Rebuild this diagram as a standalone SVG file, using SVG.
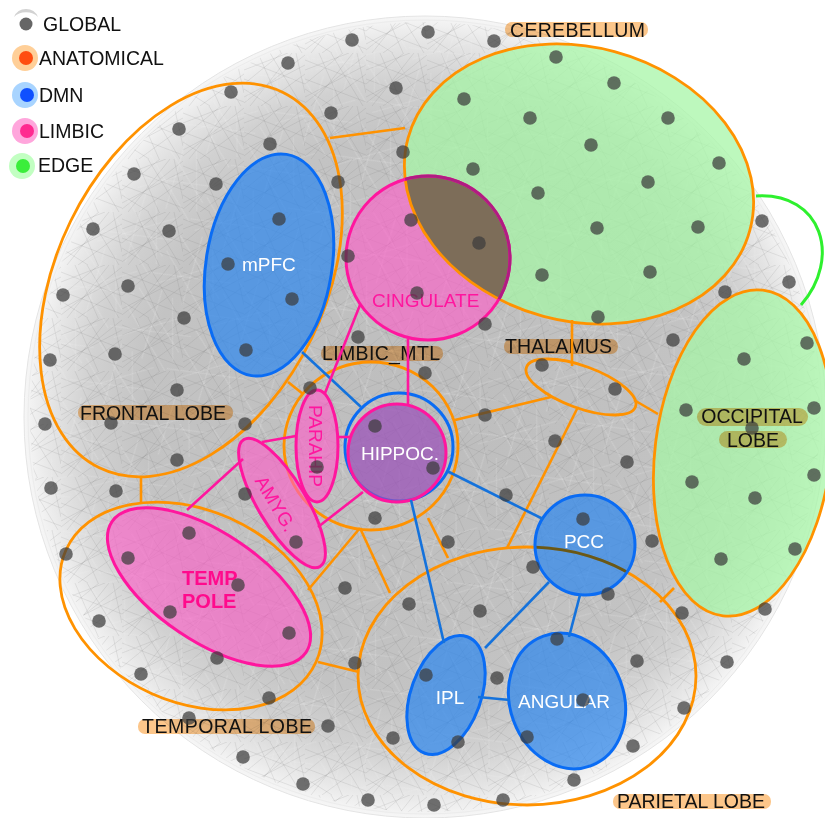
<svg xmlns="http://www.w3.org/2000/svg" width="825" height="818" viewBox="0 0 825 818">
<style>
text{font-family:"Liberation Sans",Arial,Helvetica,sans-serif}
.lbl{font-size:19.5px;fill:#111}
.lbg{fill:#fcc68a;mix-blend-mode:multiply}
.anat{fill:none;stroke:#ff9200;stroke-width:2.8}
.green{fill:#a6f5a6;fill-opacity:.74}
.dmnf{fill:#2b86ee;fill-opacity:.7}
.dmns{fill:none;stroke:#0a6cf4;stroke-width:3}
.limf{fill:#ff5cc8;fill-opacity:.62}
.lims{fill:none;stroke:#ff169e;stroke-width:3}
.wt{fill:#fff;font-size:19px}
.pt{fill:#ff169e;font-size:19px}
.c-anat{stroke:#ff9200;stroke-width:2.6}
.c-dmn{stroke:#1472dc;stroke-width:2.6}
.c-lim{stroke:#ff169e;stroke-width:2.6}
.c-edge{stroke:#2ef02e;stroke-width:3;fill:none}
.g circle{fill:#3c3c3c;fill-opacity:.72}
</style>
<defs>
<radialGradient id="bgGrad" cx="425" cy="417" r="402" gradientUnits="userSpaceOnUse">
<stop offset="0" stop-color="#bdbdbd"/>
<stop offset="0.7" stop-color="#c3c3c3"/>
<stop offset="0.84" stop-color="#d1d1d1"/>
<stop offset="0.94" stop-color="#e7e7e7"/>
<stop offset="1" stop-color="#f7f7f7"/>
</radialGradient>
<pattern id="tex1" width="61" height="53" patternUnits="userSpaceOnUse">
<path d="M0 7L61 31M0 44L61 12M14 0L37 53M48 0L6 53M0 26L61 49M26 0L58 53M0 17L44 0M17 53L61 21M0 36L27 53M38 0L0 31M52 0L61 40M0 50L61 2" stroke="#6a6a6a" stroke-width="0.45" stroke-opacity="0.3" fill="none"/>
</pattern>
<pattern id="tex2" width="71" height="67" patternUnits="userSpaceOnUse" patternTransform="rotate(37)">
<path d="M0 12L71 40M0 60L71 20M20 0L45 67M60 0L10 67M0 33L71 63M33 0L71 50" stroke="#f4f4f4" stroke-width="0.6" stroke-opacity="0.4" fill="none"/>
</pattern>
<clipPath id="clipCer"><ellipse cx="579" cy="184" rx="177" ry="137" transform="rotate(15 579 184)"/></clipPath>
<clipPath id="clipCing"><circle cx="428" cy="258" r="82"/></clipPath>
<clipPath id="clipPCC"><circle cx="585" cy="545" r="50"/></clipPath>
</defs>

<g id="background">
<circle cx="425" cy="417" r="401" fill="url(#bgGrad)" stroke="#e4e4e4" stroke-width="1"/>
<circle cx="425" cy="417" r="395" fill="url(#tex1)"/>
<circle cx="425" cy="417" r="380" fill="url(#tex2)"/>
<circle cx="425" cy="417" r="397" fill="none" stroke="#ececec" stroke-width="1"/>
</g>

<g id="legend">
<path d="M14,17 A13,13 0 0 1 38,17 A14,10 0 0 0 14,17 Z" fill="#d2d2d2"/>
<circle cx="26" cy="24" r="6.5" fill="#666"/>
<text class="lbl" x="43" y="31">GLOBAL</text>
<circle cx="25" cy="58" r="13" fill="#ffcf98"/>
<circle cx="26" cy="58" r="7" fill="#ff4d10"/>
<text class="lbl" x="39" y="65">ANATOMICAL</text>
<circle cx="25" cy="95" r="13" fill="#a8d4ff"/>
<circle cx="27" cy="95" r="7" fill="#1050ff"/>
<text class="lbl" x="39" y="102">DMN</text>
<circle cx="25" cy="131" r="13" fill="#ffa6dc"/>
<circle cx="27" cy="131" r="7" fill="#ff2a90"/>
<text class="lbl" x="39" y="138">LIMBIC</text>
<circle cx="22" cy="166" r="13" fill="#c2ffc2"/>
<circle cx="23" cy="166" r="7" fill="#3bee3b"/>
<text class="lbl" x="38" y="172">EDGE</text>
</g>

<g id="frontal-lobe">
<ellipse class="anat" cx="191" cy="280" rx="134" ry="209" transform="rotate(26 191 280)"/>
<rect class="lbg" x="78" y="405" width="155" height="15" rx="7"/>
<text class="lbl" x="80" y="420" textLength="146">FRONTAL LOBE</text>
</g>
<g id="temporal-lobe">
<ellipse class="anat" cx="191" cy="606" rx="137" ry="96" transform="rotate(24 191 606)"/>
<rect class="lbg" x="138" y="719" width="177" height="15" rx="7"/>
<text class="lbl" x="142" y="733" textLength="170">TEMPORAL LOBE</text>
</g>
<g id="parietal-lobe">
<ellipse class="anat" cx="527" cy="676" rx="169" ry="129"/>
<rect class="lbg" x="613" y="794" width="158" height="15" rx="7"/>
<text class="lbl" x="617" y="808" textLength="148">PARIETAL LOBE</text>
</g>
<g id="limbic-mtl">
<ellipse class="anat" cx="371" cy="446" rx="87" ry="84"/>
<rect class="lbg" x="321" y="346" width="122" height="15" rx="7"/>
<text class="lbl" x="322" y="360" textLength="118">LIMBIC_MTL</text>
</g>
<g id="thalamus">
<ellipse class="anat" cx="581" cy="387" rx="58" ry="21" transform="rotate(20 581 387)"/>
<rect class="lbg" x="504" y="339" width="114" height="15" rx="7"/>
<text class="lbl" x="505" y="353" textLength="107">THALAMUS</text>
</g>
<g id="cerebellum">
<ellipse class="green" cx="579" cy="184" rx="177" ry="137" transform="rotate(15 579 184)"/>
<rect class="lbg" x="505" y="22" width="143" height="15" rx="7"/>
<text class="lbl" x="510" y="37" textLength="135">CEREBELLUM</text>
</g>
<g id="occipital-lobe">
<ellipse class="green" cx="743" cy="453" rx="88" ry="164" transform="rotate(7 743 453)"/>
<ellipse class="anat" cx="743" cy="453" rx="88" ry="164" transform="rotate(7 743 453)" stroke="#f48e08"/>
</g>

<g id="cingulate">
<circle class="limf" cx="428" cy="258" r="82"/>
<g clip-path="url(#clipCing)">
<ellipse cx="579" cy="184" rx="177" ry="137" transform="rotate(15 579 184)" fill="#646440" fill-opacity="0.8"/>
</g>
<ellipse class="anat" cx="579" cy="184" rx="177" ry="137" transform="rotate(15 579 184)" stroke="#ec8e0c"/>
<circle class="lims" cx="428" cy="258" r="82"/>
<g clip-path="url(#clipCer)"><circle cx="428" cy="258" r="82" fill="none" stroke="#b01c82" stroke-width="3"/></g>
<text class="pt" x="372" y="307">CINGULATE</text>
</g>

<g id="mpfc">
<ellipse class="dmnf" cx="269" cy="265" rx="63" ry="112" transform="rotate(9 269 265)"/>
<ellipse class="dmns" cx="269" cy="265" rx="63" ry="112" transform="rotate(9 269 265)"/>
<text class="wt" x="242" y="271">mPFC</text>
</g>

<g id="hippoc">
<circle cx="399" cy="447" r="54" fill="none" stroke="#0a6cf4" stroke-width="3"/>
<circle cx="397" cy="453" r="49" fill="#9a4fb8" fill-opacity="0.72"/>
<circle class="lims" cx="397" cy="453" r="49"/>
<text class="wt" x="400" y="460" text-anchor="middle">HIPPOC.</text>
</g>

<g id="parahip">
<ellipse class="limf" cx="317" cy="446" rx="21" ry="56"/>
<ellipse class="lims" cx="317" cy="446" rx="21" ry="56"/>
<text class="pt" transform="translate(309 446) rotate(90)" text-anchor="middle" font-size="18.5">PARAHIP</text>
</g>

<g id="amyg">
<ellipse class="limf" cx="282" cy="503" rx="24" ry="74" transform="rotate(-31 282 503)"/>
<ellipse class="lims" cx="282" cy="503" rx="24" ry="74" transform="rotate(-31 282 503)"/>
<text class="pt" transform="translate(270 507) rotate(59)" text-anchor="middle" font-size="18.5">AMYG.</text>
</g>

<g id="temp-pole">
<ellipse class="limf" cx="209" cy="587" rx="117" ry="54" transform="rotate(34 209 587)"/>
<ellipse class="lims" cx="209" cy="587" rx="117" ry="54" transform="rotate(34 209 587)"/>
<text x="182" y="585" font-size="20" font-weight="bold" fill="#ff0a8c">TEMP</text>
<text x="182" y="608" font-size="20" font-weight="bold" fill="#ff0a8c">POLE</text>
</g>

<g id="pcc">
<circle class="dmnf" cx="585" cy="545" r="50"/>
<g clip-path="url(#clipPCC)"><ellipse cx="527" cy="676" rx="169" ry="129" fill="none" stroke="#6a5816" stroke-width="2.8"/></g>
<circle class="dmns" cx="585" cy="545" r="50"/>
<text class="wt" x="584" y="548" text-anchor="middle">PCC</text>
</g>

<g id="ipl">
<ellipse class="dmnf" cx="446" cy="695" rx="35" ry="62" transform="rotate(20 446 695)"/>
<ellipse class="dmns" cx="446" cy="695" rx="35" ry="62" transform="rotate(20 446 695)"/>
<text class="wt" x="450" y="704" text-anchor="middle">IPL</text>
</g>

<g id="angular">
<ellipse class="dmnf" cx="567" cy="701" rx="57" ry="69" transform="rotate(-20 567 701)"/>
<ellipse class="dmns" cx="567" cy="701" rx="57" ry="69" transform="rotate(-20 567 701)"/>
<text class="wt" x="564" y="708" text-anchor="middle">ANGULAR</text>
</g>

<g id="occipital-label">
<rect class="lbg" x="697" y="408" width="111" height="18" rx="9"/>
<rect class="lbg" x="719" y="431" width="68" height="17" rx="8.5"/>
<text class="lbl" x="752" y="423" text-anchor="middle">OCCIPITAL</text>
<text class="lbl" x="753" y="447" text-anchor="middle">LOBE</text>
</g>

<g id="connectors">
<line class="c-anat" x1="330" y1="138" x2="405" y2="128"/>
<line class="c-anat" x1="288" y1="382" x2="303" y2="394"/>
<line class="c-anat" x1="141" y1="478" x2="141" y2="502"/>
<line class="c-anat" x1="572" y1="320" x2="572" y2="366"/>
<line class="c-anat" x1="455" y1="420" x2="551" y2="397"/>
<line class="c-anat" x1="578" y1="407" x2="507" y2="548"/>
<line class="c-anat" x1="634" y1="400" x2="658" y2="414"/>
<line class="c-anat" x1="360" y1="528" x2="308" y2="590"/>
<line class="c-anat" x1="360" y1="528" x2="390" y2="593"/>
<line class="c-anat" x1="428" y1="518" x2="448" y2="558"/>
<line class="c-anat" x1="318" y1="662" x2="359" y2="672"/>
<line class="c-anat" x1="660" y1="602" x2="674" y2="588"/>
<line class="c-dmn" x1="302" y1="352" x2="361" y2="407"/>
<line class="c-dmn" x1="447" y1="471" x2="543" y2="519"/>
<line class="c-dmn" x1="411" y1="500" x2="444" y2="643"/>
<line class="c-dmn" x1="549" y1="582" x2="485" y2="648"/>
<line class="c-dmn" x1="580" y1="595" x2="569" y2="637"/>
<line class="c-dmn" x1="478" y1="697" x2="510" y2="700"/>
<line class="c-lim" x1="360" y1="305" x2="325" y2="393"/>
<line class="c-lim" x1="408" y1="339" x2="408" y2="404"/>
<line class="c-lim" x1="338" y1="437" x2="350" y2="437"/>
<line class="c-lim" x1="262" y1="442" x2="296" y2="436"/>
<line class="c-lim" x1="243" y1="459" x2="187" y2="510"/>
<line class="c-lim" x1="318" y1="527" x2="363" y2="492"/>
<path class="c-edge" d="M756,196 C822,192 842,258 801,305"/>
</g>

<g id="global-nodes" class="g">
<circle cx="352" cy="40" r="6.8"/><circle cx="428" cy="32" r="6.8"/><circle cx="494" cy="41" r="6.8"/>
<circle cx="288" cy="63" r="6.8"/><circle cx="396" cy="88" r="6.8"/><circle cx="231" cy="92" r="6.8"/>
<circle cx="331" cy="113" r="6.8"/><circle cx="179" cy="129" r="6.8"/><circle cx="270" cy="144" r="6.8"/>
<circle cx="403" cy="152" r="6.8"/><circle cx="134" cy="174" r="6.8"/><circle cx="216" cy="184" r="6.8"/>
<circle cx="338" cy="182" r="6.8"/><circle cx="279" cy="219" r="6.8"/><circle cx="93" cy="229" r="6.8"/>
<circle cx="169" cy="231" r="6.8"/><circle cx="228" cy="264" r="6.8"/><circle cx="348" cy="256" r="6.8"/>
<circle cx="63" cy="295" r="6.8"/><circle cx="128" cy="286" r="6.8"/><circle cx="292" cy="299" r="6.8"/>
<circle cx="411" cy="220" r="6.8"/><circle cx="184" cy="318" r="6.8"/><circle cx="50" cy="360" r="6.8"/>
<circle cx="115" cy="354" r="6.8"/><circle cx="246" cy="350" r="6.8"/><circle cx="358" cy="337" r="6.8"/>
<circle cx="177" cy="390" r="6.8"/><circle cx="310" cy="388" r="6.8"/>
<circle cx="556" cy="57" r="6.8"/><circle cx="464" cy="99" r="6.8"/><circle cx="614" cy="83" r="6.8"/>
<circle cx="530" cy="118" r="6.8"/><circle cx="668" cy="118" r="6.8"/><circle cx="591" cy="145" r="6.8"/>
<circle cx="473" cy="169" r="6.8"/><circle cx="719" cy="163" r="6.8"/><circle cx="648" cy="182" r="6.8"/>
<circle cx="538" cy="193" r="6.8"/><circle cx="479" cy="243" r="6.8"/><circle cx="597" cy="228" r="6.8"/>
<circle cx="698" cy="227" r="6.8"/><circle cx="542" cy="275" r="6.8"/><circle cx="650" cy="272" r="6.8"/>
<circle cx="598" cy="317" r="6.8"/>
<circle cx="762" cy="221" r="6.8"/><circle cx="789" cy="282" r="6.8"/><circle cx="725" cy="292" r="6.8"/>
<circle cx="417" cy="293" r="6.8"/><circle cx="485" cy="324" r="6.8"/><circle cx="673" cy="340" r="6.8"/>
<circle cx="542" cy="365" r="6.8"/><circle cx="615" cy="389" r="6.8"/><circle cx="807" cy="343" r="6.8"/>
<circle cx="744" cy="359" r="6.8"/><circle cx="425" cy="373" r="6.8"/><circle cx="814" cy="408" r="6.8"/>
<circle cx="686" cy="410" r="6.8"/>
<circle cx="45" cy="424" r="6.8"/><circle cx="111" cy="423" r="6.8"/><circle cx="245" cy="424" r="6.8"/>
<circle cx="177" cy="460" r="6.8"/><circle cx="51" cy="488" r="6.8"/><circle cx="116" cy="491" r="6.8"/>
<circle cx="245" cy="494" r="6.8"/><circle cx="317" cy="467" r="6.8"/><circle cx="375" cy="426" r="6.8"/>
<circle cx="375" cy="518" r="6.8"/><circle cx="189" cy="533" r="6.8"/><circle cx="128" cy="558" r="6.8"/>
<circle cx="238" cy="585" r="6.8"/><circle cx="170" cy="612" r="6.8"/><circle cx="289" cy="633" r="6.8"/>
<circle cx="296" cy="542" r="6.8"/><circle cx="66" cy="554" r="6.8"/><circle cx="99" cy="621" r="6.8"/>
<circle cx="217" cy="658" r="6.8"/><circle cx="141" cy="674" r="6.8"/><circle cx="345" cy="588" r="6.8"/>
<circle cx="355" cy="663" r="6.8"/><circle cx="269" cy="698" r="6.8"/><circle cx="409" cy="604" r="6.8"/>
<circle cx="189" cy="718" r="6.8"/><circle cx="328" cy="726" r="6.8"/><circle cx="243" cy="757" r="6.8"/>
<circle cx="303" cy="784" r="6.8"/><circle cx="368" cy="800" r="6.8"/><circle cx="393" cy="738" r="6.8"/>
<circle cx="752" cy="428" r="6.8"/><circle cx="485" cy="415" r="6.8"/><circle cx="555" cy="441" r="6.8"/>
<circle cx="627" cy="462" r="6.8"/><circle cx="433" cy="468" r="6.8"/><circle cx="692" cy="482" r="6.8"/>
<circle cx="814" cy="475" r="6.8"/><circle cx="755" cy="498" r="6.8"/><circle cx="506" cy="495" r="6.8"/>
<circle cx="583" cy="519" r="6.8"/><circle cx="448" cy="542" r="6.8"/><circle cx="652" cy="541" r="6.8"/>
<circle cx="533" cy="567" r="6.8"/><circle cx="721" cy="559" r="6.8"/><circle cx="795" cy="549" r="6.8"/>
<circle cx="608" cy="594" r="6.8"/><circle cx="480" cy="611" r="6.8"/><circle cx="682" cy="613" r="6.8"/>
<circle cx="765" cy="609" r="6.8"/><circle cx="557" cy="639" r="6.8"/><circle cx="637" cy="661" r="6.8"/>
<circle cx="727" cy="662" r="6.8"/><circle cx="426" cy="675" r="6.8"/><circle cx="497" cy="678" r="6.8"/>
<circle cx="583" cy="700" r="6.8"/><circle cx="684" cy="708" r="6.8"/><circle cx="458" cy="742" r="6.8"/>
<circle cx="527" cy="737" r="6.8"/><circle cx="633" cy="746" r="6.8"/><circle cx="574" cy="780" r="6.8"/>
<circle cx="434" cy="805" r="6.8"/><circle cx="503" cy="800" r="6.8"/>
</g>
</svg>
